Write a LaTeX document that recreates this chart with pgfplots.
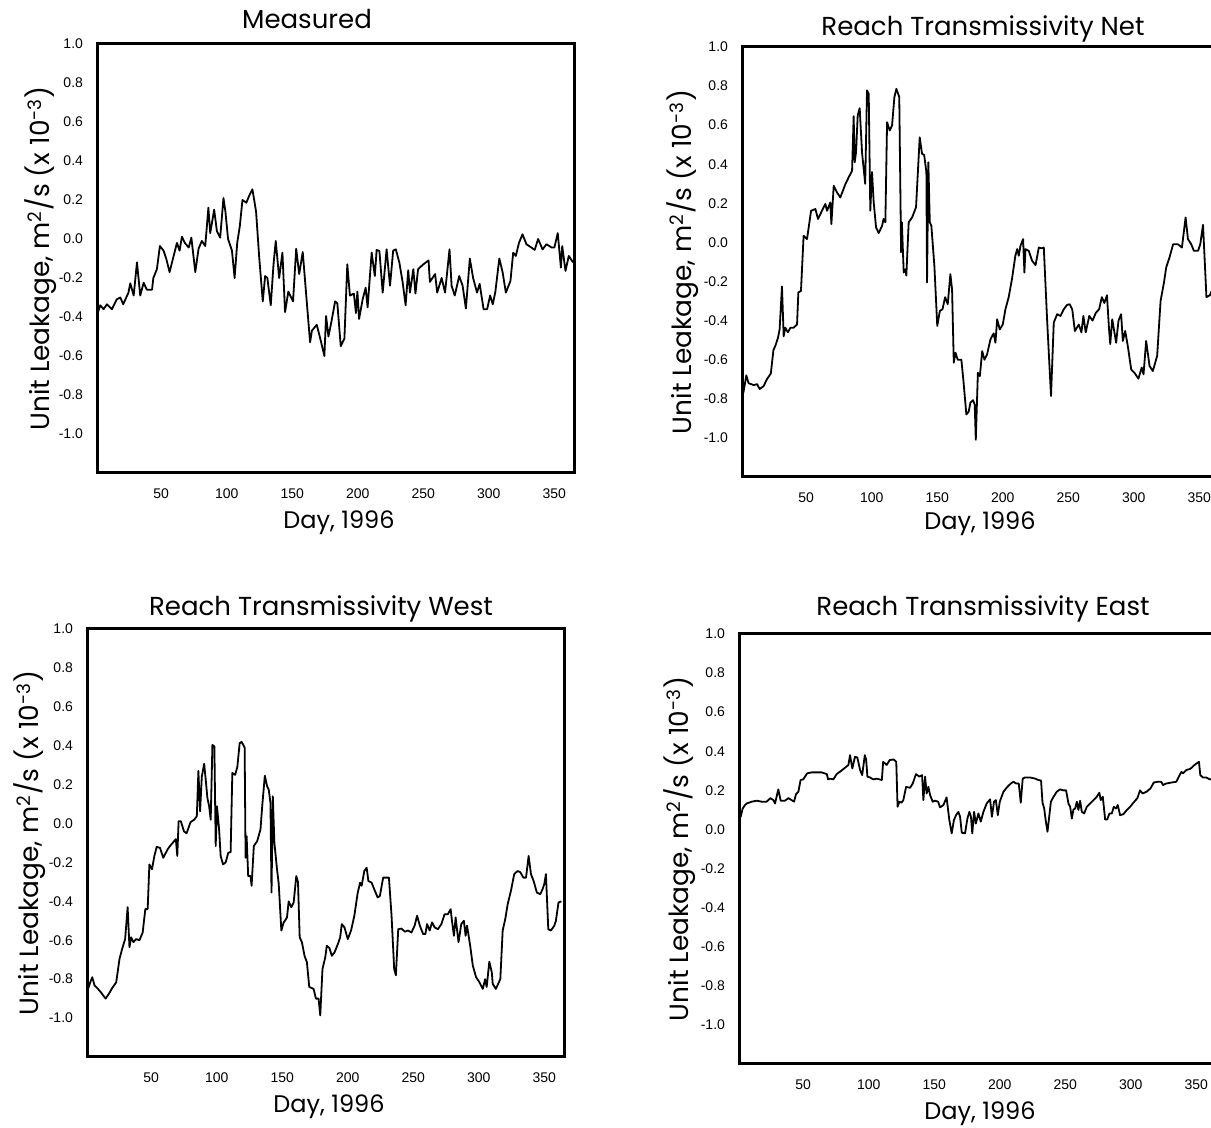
\documentclass[border=0pt]{standalone}
\usepackage{fontspec}
\usepackage{pgfplots}
\pgfplotsset{compat=1.18}
\setmainfont{Poppins}
\newfontfamily\ticfont{Liberation Sans}

\pgfplotsset{
  panel/.style={
    scale only axis, width=238.5pt, height=214.5pt, anchor=south west,
    xmin=1, xmax=365, ymin=-1.2, ymax=1.0,
    xtick={50,100,150,200,250,300,350},
    xticklabels={50,100,150,200,250,300,350},
    ytick={-1,-0.8,-0.6,-0.4,-0.2,0,0.2,0.4,0.6,0.8,1},
    yticklabels={-1.0,-0.8,-0.6,-0.4,-0.2,0.0,0.2,0.4,0.6,0.8,1.0},
    ticklabel style={font=\ticfont\fontsize{7}{8}\selectfont},
    xticklabel style={yshift=-3pt},
    yticklabel style={xshift=-2pt},
    axis line style={line width=1.5pt},
    tick align=center, major tick length=3pt,
    tick style={white, line width=0.6pt},
    cycle list={{black, line width=0.85pt, mark=none}},
  },
  dat/.style={black, line width=0.9pt, mark=none, line join=round},
}
\newcommand\titfont{\fontsize{13}{15}\selectfont}
\newcommand\xlabfont{\fontsize{12}{14}\selectfont}
\newcommand\ylabfont{\fontsize{13.2}{15}\selectfont}
\newcommand\ylab{Unit Leakage, m\textsuperscript{2}/s (x 10\textsuperscript{-3})}

\begin{document}
\begin{tikzpicture}
\useasboundingbox (0,0) rectangle (605.5pt,564pt);
\clip (0,0) rectangle (605.5pt,564pt);

% ---------------- Measured ----------------
\begin{axis}[panel, at={(48.5pt,327.5pt)}]
\addplot[dat] coordinates {
(1,-0.39)(3.5,-0.34)(6,-0.36)(8.6,-0.335)(12.4,-0.36)(16,-0.31)(18.8,-0.30)(21,-0.335)
(25,-0.275)(26.4,-0.227)(29,-0.29)(31.5,-0.12)(34,-0.29)(36.6,-0.224)(39,-0.26)(43,-0.26)
(44,-0.2)(46.7,-0.155)(49,-0.036)(51.8,-0.06)(53.8,-0.10)(56.4,-0.17)(59,-0.10)(62,-0.02)
(64,-0.06)(65.8,0.012)(68,-0.02)(71,-0.044)(73,0.007)(76,-0.17)(78.5,-0.05)(81,-0.01)
(83.6,-0.036)(86,0.16)(87.4,0.03)(90.4,0.15)(92.5,0.04)(95,0.007)(97.5,0.21)(99,0.14)
(101,0.0)(104,-0.06)(106,-0.2)(108,-0.02)(110,0.067)(112,0.2)(115,0.186)(117,0.22)
(119.6,0.255)(122.4,0.14)(124.7,-0.087)(127.5,-0.32)(129.3,-0.19)(131,-0.2)(133.6,-0.34)
(135.7,-0.13)(137.4,-0.01)(140,-0.2)(142.5,-0.07)(144.5,-0.375)(147,-0.27)(150.6,-0.32)
(153,-0.05)(155.3,-0.18)(158,-0.067)(160.5,-0.275)(163.6,-0.53)(165,-0.47)(168.7,-0.44)
(171.7,-0.52)(174.5,-0.6)(175.8,-0.395)(177.6,-0.5)(180,-0.42)(182.7,-0.32)(184.4,-0.33)
(187,-0.55)(189.8,-0.51)(192,-0.13)(194,-0.29)(197,-0.28)(198.6,-0.38)(199.7,-0.27)
(201,-0.41)(203.7,-0.31)(206,-0.25)(207.5,-0.35)(210.6,-0.07)(213,-0.19)(214.4,-0.056)
(216.5,-0.062)(219,-0.275)(222,-0.053)(224.6,-0.24)(227,-0.06)(229,-0.053)(231.7,-0.12)
(234.2,-0.22)(236.5,-0.34)(238.5,-0.16)(239.8,-0.275)(242.4,-0.155)(244,-0.28)(246,-0.155)
(250,-0.13)(254,-0.11)(255,-0.22)(259,-0.18)(260.6,-0.275)(264,-0.2)(266.6,-0.275)
(270,-0.053)(271.6,-0.24)(274,-0.29)(277.4,-0.19)(280,-0.24)(282.5,-0.357)(285.5,-0.1)
(288,-0.2)(291,-0.275)(293,-0.23)(296,-0.36)(298.7,-0.36)(301,-0.29)(303,-0.335)(305,-0.27)
(308,-0.10)(310.5,-0.17)(313,-0.275)(316.5,-0.215)(318.6,-0.07)(320.6,-0.087)(323,-0.02)
(325.7,0.024)(328.7,-0.027)(332.5,-0.044)(335,-0.056)(337.6,0.0)(341,-0.053)(344,-0.027)
(348,-0.044)(350,-0.044)(352.6,0.03)(355,-0.147)(356,-0.036)(358.5,-0.164)(361,-0.087)
(364.3,-0.12)
};
\end{axis}

% ---------------- Net ----------------
\begin{axis}[panel, at={(371pt,325.5pt)}, height=215pt]
\addplot[dat] coordinates {
(1,-0.795)(2.3,-0.76)(4.3,-0.68)(6,-0.72)(10,-0.73)(12.5,-0.725)(14.5,-0.75)(17.5,-0.735)
(20,-0.70)(23,-0.67)(25,-0.55)(26.4,-0.53)(28.5,-0.487)(29.7,-0.445)(31.5,-0.225)(32.8,-0.48)
(34,-0.436)(36,-0.46)(38,-0.436)(40.4,-0.436)(43,-0.42)(44,-0.256)(46,-0.248)(48,0.034)
(50.6,0.017)(53.7,0.162)(57,0.171)(59,0.12)(62,0.162)(64.6,0.197)(65.9,0.162)(68.4,0.205)
(69.2,0.094)(71,0.29)(73.5,0.256)(76,0.23)(80,0.30)(82.4,0.333)(85,0.367)(86.2,0.646)
(87,0.41)(88,0.46)(89.3,0.65)(90.8,0.687)(92.6,0.46)(95,0.30)(96.4,0.778)(97.7,0.76)
(98.9,0.162)(100.2,0.36)(101.5,0.205)(103.3,0.077)(105.3,0.048)(107.9,0.085)(109,0.12)
(110.4,0.103)(111.7,0.615)(113.7,0.573)(115.5,0.598)(117.3,0.744)(118.8,0.786)(121,0.744)
(122.4,-0.05)(123,0.103)(124.4,-0.154)(125.7,-0.137)(126.4,-0.17)(128.2,0.103)(130.8,0.128)
(133.8,0.18)(136.6,0.538)(138.4,0.453)(140,0.448)(141.7,0.36)(142.2,-0.205)(143.2,0.41)
(144.3,0.103)(145.5,0.085)(147.8,-0.12)(150,-0.427)(152,-0.35)(154,-0.342)(156,-0.28)
(158,-0.316)(160,-0.162)(161.3,-0.24)(162.6,-0.615)(163.9,-0.564)(165.6,-0.6)(168.4,-0.6)
(170,-0.71)(172.2,-0.88)(174,-0.865)(175.3,-0.82)(177.3,-0.807)(178.6,-0.83)(179.4,-1.01)
(181,-0.667)(182.5,-0.684)(184.3,-0.556)(186,-0.6)(188,-0.573)(190.6,-0.496)(193,-0.465)
(194.4,-0.513)(195.7,-0.393)(197.7,-0.445)(200,-0.42)(202,-0.342)(204.5,-0.28)(207,-0.188)
(209.6,-0.068)(211,-0.034)(212.2,-0.068)(213.5,-0.017)(215.5,0.017)(216.5,-0.154)
(217.3,-0.034)(219.8,-0.043)(222.4,-0.094)(225,-0.116)(227.5,-0.026)(229.3,-0.03)
(231.3,-0.026)(233.8,-0.393)(236.8,-0.786)(238.9,-0.41)(241.5,-0.367)(244,-0.376)
(246.5,-0.342)(249,-0.32)(251,-0.316)(253,-0.342)(255,-0.453)(258,-0.42)(260,-0.46)
(261.5,-0.376)(263.3,-0.46)(266,-0.376)(268.5,-0.40)(271,-0.36)(273.5,-0.342)(275.6,-0.28)
(277.5,-0.31)(279.5,-0.27)(281,-0.436)(282,-0.52)(283.5,-0.393)(286.5,-0.513)(288.3,-0.40)
(290.3,-0.367)(291.6,-0.504)(293.4,-0.453)(295.4,-0.53)(298,-0.65)(300.5,-0.667)
(303.5,-0.697)(306,-0.64)(307.4,-0.675)(309.4,-0.504)(312,-0.632)(314.5,-0.658)
(317.8,-0.58)(320.4,-0.3)(323,-0.205)(324.7,-0.128)(327.2,-0.077)(330,-0.009)(333.6,-0.009)
(336.7,-0.026)(339.5,0.128)(341.3,0.017)(343.8,-0.009)(345.8,-0.043)(349,-0.043)
(350.7,-0.009)(352.8,0.09)(355.4,-0.28)(358,-0.27)(359.3,-0.25)(362,-0.24)(365,-0.22)
};
\end{axis}

% ---------------- West ----------------
\begin{axis}[panel, at={(43.5pt,35.5pt)}, height=214pt]
\addplot[dat] coordinates {
(1,-0.83)(1.8,-0.85)(3.5,-0.816)(5,-0.79)(6.8,-0.833)(9.4,-0.85)(11.9,-0.87)(15.2,-0.90)
(17.7,-0.875)(20.2,-0.846)(23.3,-0.816)(25.8,-0.696)(27.8,-0.645)(30.1,-0.594)(32,-0.43)
(33.4,-0.636)(34.7,-0.585)(36.4,-0.61)(38.5,-0.594)(41,-0.60)(43.5,-0.56)(45.5,-0.44)
(47.3,-0.44)(48.6,-0.21)(50.6,-0.235)(52.4,-0.167)(54.2,-0.12)(56.7,-0.125)(59.2,-0.176)
(62.5,-0.133)(64.3,-0.116)(66.3,-0.1)(68.8,-0.08)(69.9,-0.167)(70.9,0.012)(72.6,0.012)
(75,-0.04)(77,-0.05)(80,0.007)(82.8,0.02)(84.8,0.037)(86,0.27)(87.3,0.063)(88.6,0.24)
(90.4,0.307)(91.6,0.225)(92.9,0.13)(94.2,0.089)(95.4,0.02)(96.7,0.404)(98.2,0.396)
(99.2,-0.116)(100.2,0.089)(101.8,-0.03)(103,-0.167)(104.8,-0.21)(106.8,-0.2)(108.8,-0.15)
(110.6,-0.147)(111.9,0.26)(114,0.25)(115.7,0.29)(117.5,0.413)(119,0.42)(121.3,0.39)
(122,-0.176)(122.8,-0.065)(124,-0.27)(125.8,-0.27)(126.6,-0.32)(128.3,-0.116)(130.9,-0.09)
(133.4,-0.03)(134.7,0.089)(136.7,0.246)(138.5,0.19)(139.7,0.174)(141,0.106)(141.8,-0.355)
(142.8,0.14)(144,-0.1)(146,-0.235)(147.3,-0.31)(149.3,-0.55)(151,-0.51)(153.6,-0.483)
(154.9,-0.40)(156.9,-0.43)(158.7,-0.406)(160.7,-0.27)(162,-0.30)(163.3,-0.585)(165,-0.61)
(167,-0.68)(168.8,-0.713)(170.6,-0.84)(173.9,-0.85)(175.7,-0.90)(177.7,-0.90)(179,-0.986)
(180.7,-0.747)(182.8,-0.688)(184,-0.628)(186,-0.64)(187.8,-0.68)(189.9,-0.662)(192.4,-0.62)
(194.2,-0.585)(195.4,-0.517)(197.5,-0.534)(200,-0.594)(202.5,-0.55)(205,-0.474)
(207.6,-0.355)(209.4,-0.304)(210.6,-0.32)(212.6,-0.244)(214.4,-0.227)(215.7,-0.295)
(218.2,-0.304)(220.2,-0.338)(222.8,-0.38)(224.5,-0.372)(226.3,-0.304)(227,-0.278)
(229.6,-0.278)(231.4,-0.278)(233.4,-0.474)(235.4,-0.747)(236.7,-0.78)(238.5,-0.543)
(241,-0.54)(243.5,-0.556)(246,-0.55)(248.6,-0.56)(251,-0.525)(252.9,-0.474)(255,-0.525)
(257.5,-0.568)(259.2,-0.568)(260.5,-0.517)(262.5,-0.55)(264.3,-0.508)(266.3,-0.534)
(268.8,-0.543)(271.4,-0.517)(273.9,-0.466)(276.4,-0.466)(278.5,-0.44)(279.5,-0.5)
(281,-0.577)(282.3,-0.483)(284.5,-0.61)(286.6,-0.517)(288.6,-0.5)(289.9,-0.577)(291,-0.525)
(293.4,-0.628)(295.4,-0.73)(297.9,-0.79)(300.5,-0.816)(303,-0.85)(304.8,-0.8)(306,-0.84)
(308,-0.71)(309.9,-0.765)(310.6,-0.824)(313,-0.85)(316.4,-0.8)(318.2,-0.55)(320.2,-0.49)
(322,-0.415)(324.5,-0.346)(327,-0.26)(329.6,-0.244)(331.6,-0.25)(334,-0.278)(336,-0.278)
(338,-0.167)(339.8,-0.26)(341.8,-0.295)(344.3,-0.355)(346.9,-0.363)(348.6,-0.338)
(350,-0.31)(351.2,-0.26)(353,-0.543)(355,-0.55)(357.6,-0.525)(358.8,-0.5)(360.8,-0.406)
(363,-0.4)
};
\end{axis}

% ---------------- East ----------------
\begin{axis}[panel, at={(369.5pt,32pt)}, height=215pt]
\addplot[dat] coordinates {
(1,0.15)(2.3,0.065)(3.8,0.107)(5.6,0.125)(6.9,0.133)(10.7,0.142)(14.5,0.147)(18.3,0.142)
(22,0.142)(25,0.16)(27.2,0.15)(28.5,0.133)(31,0.205)(32.8,0.147)(36,0.147)(38.7,0.16)
(41.2,0.15)(43,0.142)(44.5,0.18)(46.3,0.193)(48,0.253)(50,0.256)(53,0.287)(56.5,0.292)
(60,0.292)(64,0.292)(68,0.283)(69,0.256)(70.5,0.26)(73,0.256)(75.5,0.283)(79,0.30)
(82.7,0.32)(84.5,0.33)(85.7,0.38)(87.5,0.312)(89.5,0.372)(91.3,0.368)(93.4,0.304)(95,0.278)
(97,0.38)(98,0.358)(99,0.27)(101,0.266)(103.5,0.256)(106,0.26)(110,0.253)(111,0.346)
(113.7,0.33)(116,0.355)(119,0.358)(121,0.346)(122,0.116)(123.4,0.142)(125,0.137)(126.4,0.15)
(128.5,0.218)(131.5,0.213)(133.6,0.235)(136,0.283)(138.7,0.27)(140.7,0.278)(141.7,0.15)
(143,0.27)(144.2,0.184)(145.5,0.218)(146.8,0.176)(148.8,0.142)(150.6,0.147)(153,0.142)
(154.4,0.113)(157,0.125)(159.4,0.164)(161.5,0.048)(163.3,-0.02)(165,0.048)(166.6,0.073)
(168.4,0.09)(169.7,0.065)(171,-0.017)(173.5,-0.02)(175.3,0.056)(176.8,0.09)(178,0.065)
(179,-0.02)(180.4,0.09)(181.7,0.03)(183.7,0.082)(185.5,0.04)(187.5,0.09)(190,0.133)
(192.6,0.154)(194,0.065)(195.6,0.142)(197,0.15)(198.5,0.073)(200,0.142)(202.8,0.193)
(205.8,0.218)(208.4,0.235)(210.4,0.244)(212.5,0.235)(214.5,0.235)(216,0.137)(217.5,0.26)
(219.3,0.266)(223,0.266)(227,0.26)(229.5,0.253)(231.5,0.25)(232.6,0.137)(233.9,0.107)
(235,0.048)(236.4,-0.012)(238,0.082)(239,0.142)(241,0.167)(243.5,0.193)(246,0.205)
(248.6,0.2)(250.6,0.2)(252.4,0.133)(253.7,0.116)(255,0.056)(256.2,0.102)(257.5,0.107)
(258.8,0.142)(260,0.1)(261.3,0.147)(262.6,0.09)(264.4,0.082)(266.4,0.116)(269,0.133)
(271.5,0.15)(274,0.167)(276,0.188)(277,0.15)(278.6,0.167)(280.4,0.051)(282,0.051)
(283.7,0.082)(285.5,0.082)(287,0.116)(288.7,0.107)(290,0.125)(291.8,0.073)(294.3,0.078)
(297,0.1)(299.5,0.116)(302,0.137)(305,0.16)(307,0.2)(309,0.184)(312,0.193)(315,0.21)
(317.5,0.24)(320.7,0.244)(323.2,0.244)(324.5,0.227)(327,0.235)(331,0.24)(334.7,0.244)
(336.6,0.27)(338.6,0.295)(339.8,0.287)(342.3,0.304)(345.4,0.31)(348.6,0.33)(352,0.346)
(353,0.278)(355,0.266)(357.5,0.266)(360.4,0.256)(363,0.26)(365,0.255)
};
\end{axis}

% titles
\node[anchor=base, font=\titfont] at (153.5pt,549.5pt) {Measured};
\node[anchor=base, font=\titfont] at (491.5pt,546pt) {Reach Transmissivity Net};
\node[anchor=base, font=\titfont] at (160.5pt,256pt) {Reach Transmissivity West};
\node[anchor=base, font=\titfont] at (491.5pt,256pt) {Reach Transmissivity East};
% x labels
\node[anchor=base, font=\xlabfont] at (169.5pt,299.5pt) {Day, 1996};
\node[anchor=base, font=\xlabfont] at (490pt,299pt) {Day, 1996};
\node[anchor=base, font=\xlabfont] at (164.5pt,7.5pt) {Day, 1996};
\node[anchor=base, font=\xlabfont] at (490pt,4pt) {Day, 1996};
% y labels
\node[rotate=90, font=\ylabfont] at (20.5pt,434.75pt) {\ylab};
\node[rotate=90, font=\ylabfont] at (341.5pt,433pt) {\ylab};
\node[rotate=90, font=\ylabfont] at (15pt,142.5pt) {\ylab};
\node[rotate=90, font=\ylabfont] at (340pt,139.5pt) {\ylab};
\end{tikzpicture}
\end{document}
